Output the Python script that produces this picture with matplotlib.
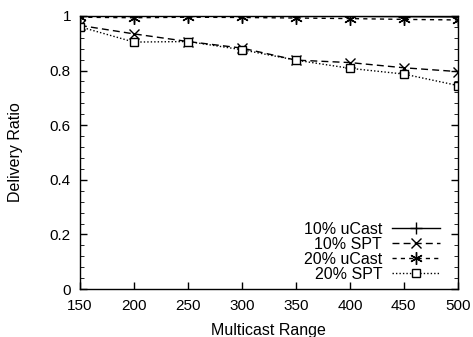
import matplotlib
matplotlib.use("Agg")
import matplotlib.pyplot as plt
from matplotlib.ticker import MultipleLocator, FuncFormatter

plt.rcParams["font.family"] = ["Liberation Sans", "DejaVu Sans"]

ranges = [150, 200, 250, 300, 350, 400, 450, 500]
ucast10 = [1.0, 1.0, 1.0, 0.999, 0.998, 0.998, 0.997, 0.996]
spt10 = [0.965, 0.934, 0.906, 0.882, 0.838, 0.829, 0.810, 0.796]
ucast20 = [0.995, 0.993, 0.995, 0.994, 0.992, 0.990, 0.987, 0.985]
spt20 = [0.960, 0.904, 0.906, 0.876, 0.838, 0.808, 0.787, 0.745]

fig = plt.figure(figsize=(4.73, 3.37), dpi=100)
ax = fig.add_axes([0.169, 0.142, 0.799, 0.811])

ax.plot(ranges, ucast10, color="black", lw=1.0, ls="-", marker="+", ms=8, mew=1.0,
        label="10% uCast")
ax.plot(ranges, spt10, color="black", lw=1.0, ls=(0, (5, 3)), marker="x", ms=7, mew=1.0,
        label="10% SPT")
ax.plot(ranges, ucast20, color="black", lw=1.0, ls=(0, (3, 3)), marker=(6, 2, 0), ms=9, mew=1.0,
        label="20% uCast")
ax.plot(ranges, spt20, color="black", lw=1.0, ls=(0, (1, 1.5)), marker="s", ms=6, mew=1.0,
        mfc="white", label="20% SPT")

ax.set_xlim(150, 500)
ax.set_ylim(0, 1)
ax.set_xticks(ranges)
ax.yaxis.set_major_locator(MultipleLocator(0.2))
ax.yaxis.set_minor_locator(MultipleLocator(0.04))
ax.yaxis.set_major_formatter(FuncFormatter(lambda v, p: "%g" % round(v, 2)))
ax.tick_params(direction="in", labelsize=11, length=5, width=1, right=True)
ax.tick_params(axis="x", pad=7)
ax.tick_params(axis="y", pad=6.5)
ax.tick_params(which="minor", direction="in", length=3, right=True)
for s in ax.spines.values():
    s.set_linewidth(1.0)

ax.set_xlabel("Multicast Range", fontsize=11.5, labelpad=7)
ax.set_ylabel("Delivery Ratio", fontsize=11.5, labelpad=19)

ax.legend(loc="lower right", bbox_to_anchor=(0.952, 0.026), frameon=False,
          markerfirst=False, fontsize=11.5, handlelength=3.0, labelspacing=0.0,
          borderaxespad=0.0, borderpad=0.0, handletextpad=0.6)

fig.savefig("out.png", dpi=100)
